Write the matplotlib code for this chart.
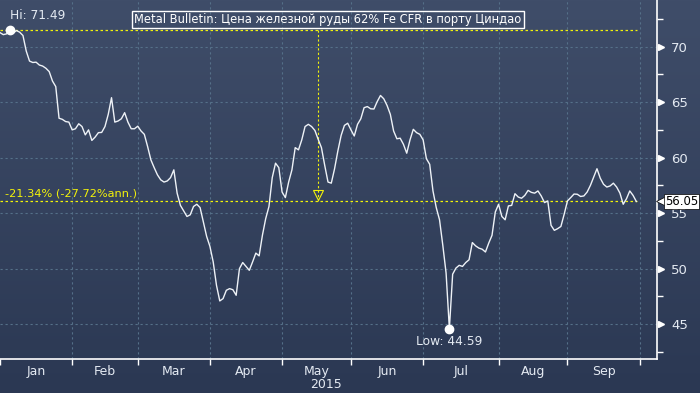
import numpy as np
import matplotlib
matplotlib.use("Agg")
import matplotlib.pyplot as plt
import matplotlib.transforms as mtransforms

# ------------------- DATA -------------------
# iron ore 62% Fe CFR Qingdao, one value per business day, Jan 1 - Sep 30 2015
prices = [
  71.26, 71.08, 71.15, 71.49, 71.20, 71.45, 71.30, 71.00, 69.60, 68.70,
  68.57, 68.60, 68.34, 68.25, 68.05, 67.75, 66.90, 66.40, 63.55, 63.45,
  63.25, 63.20, 62.50, 62.60, 63.05, 62.80, 62.05, 62.50, 61.55, 61.85,
  62.25, 62.27, 62.80, 63.90, 65.40, 63.20, 63.30, 63.50, 64.05, 63.20,
  62.60, 62.60, 62.83, 62.40, 62.10, 61.00, 59.80, 59.10, 58.45, 58.00,
  57.80, 57.90, 58.20, 58.90, 56.80, 55.70, 55.20, 54.70, 54.85, 55.60,
  55.80, 55.50, 54.20, 52.90, 52.00, 50.60, 48.50, 47.09, 47.30, 48.05,
  48.20, 48.10, 47.60, 50.00, 50.55, 50.20, 49.85, 50.60, 51.40, 51.15,
  53.00, 54.50, 55.60, 58.20, 59.50, 59.10, 56.90, 56.40, 57.80, 58.90,
  60.90, 60.70, 61.60, 62.80, 63.00, 62.80, 62.45, 61.65, 60.90, 59.30,
  57.80, 57.70, 59.00, 60.60, 62.00, 62.90, 63.10, 62.50, 61.95, 63.00,
  63.50, 64.50, 64.60, 64.40, 64.38, 65.05, 65.60, 65.30, 64.70, 63.90,
  62.40, 61.70, 61.75, 61.20, 60.40, 61.60, 62.55, 62.25, 62.10, 61.60,
  59.90, 59.40, 57.00, 55.50, 54.40, 52.10, 49.60, 44.59, 49.50, 50.05,
  50.30, 50.20, 50.55, 50.80, 52.35, 52.05, 51.85, 51.75, 51.50, 52.30,
  53.00, 55.10, 55.80, 54.70, 54.40, 55.65, 55.70, 56.75, 56.45, 56.34,
  56.60, 57.05, 56.87, 56.80, 57.00, 56.55, 55.95, 56.10, 53.90, 53.45,
  53.60, 53.80, 54.90, 56.10, 56.40, 56.72, 56.70, 56.50, 56.55, 56.90,
  57.50, 58.25, 59.00, 58.15, 57.60, 57.35, 57.45, 57.70, 57.35, 56.80,
  55.80, 56.30, 57.00, 56.60, 56.05,
]
months = ["Jan", "Feb", "Mar", "Apr", "May", "Jun", "Jul", "Aug", "Sep"]
# business days at the start of each month (and end of Sep)
month_starts = [0, 22, 42, 64, 86, 107, 129, 152, 173, 195]
yticks = [45, 50, 55, 60, 65, 70]
title = "Metal Bulletin: Цена железной руды 62% Fe CFR в порту Циндао"
change_label = "-21.34% (-27.72%ann.)"
marker_day = 97  # day of the change marker

# ------------------- STYLE -------------------
TXT = "#e4eaf2"
GRID = "#557089"
YEL = "#f2f20a"

x = np.arange(len(prices))
y = np.array(prices)
hi_i = int(np.argmax(y))
lo_i = int(np.argmin(y))
last = y[-1]

fig = plt.figure(figsize=(7.0, 3.93), dpi=100)

# background gradient
bg = fig.add_axes([0, 0, 1, 1], zorder=0)
grad = np.linspace(0, 1, 256).reshape(-1, 1)
cmap = matplotlib.colors.LinearSegmentedColormap.from_list("bg", ["#3f4d69", "#2b3853"])
bg.imshow(grad, aspect="auto", cmap=cmap, extent=[0, 1, 0, 1])
bg.axis("off")

ax = fig.add_axes([0.0, 1 - 359/393, 657/700, 359/393], zorder=1)
ax.patch.set_alpha(0)

ax.set_xlim(0, 200.3)
ax.set_ylim(41.86, 74.2)

# grid
for b in month_starts[1:]:
  ax.axvline(b, color=GRID, lw=0.8, ls=(0, (2, 2.5)), zorder=1)
for t in yticks:
  ax.axhline(t, color=GRID, lw=0.8, ls=(0, (2, 2.5)), zorder=1)

# reference lines
end = len(prices) - 0.8
ax.plot([0, end], [y[hi_i], y[hi_i]], color=YEL, lw=0.9, ls=(0, (2, 2)), zorder=2)
ax.plot([0, end], [last, last], color=YEL, lw=0.9, ls=(0, (2, 2)), zorder=2)
ax.plot([marker_day, marker_day], [y[hi_i], last], color=YEL, lw=0.8, ls=(0, (2, 2)), zorder=2)
ax.plot(marker_day, last + 0.55, marker="v", ms=7, mfc="none", mec=YEL, mew=0.8, zorder=3)

# price line
ax.plot(x, y, color="#eef2f7", lw=1.0, zorder=4)

# hi / low
ax.plot(hi_i, y[hi_i], "o", color="white", ms=6, zorder=5)
ax.plot(lo_i, y[lo_i], "o", color="white", ms=6, zorder=5)
ax.text(hi_i - 0.1, y[hi_i] + 0.7, f"Hi: {y[hi_i]:.2f}", color=TXT, fontsize=8.8, va="bottom", ha="left")
ax.text(lo_i, y[lo_i] - 0.6, f"Low: {y[lo_i]:.2f}", color=TXT, fontsize=8.8, va="top", ha="center")

ax.text(1.5, last + 0.3, change_label, color=YEL, fontsize=8.2, va="bottom", ha="left")

# title box
ax.text(100, 72.45, title, color="white", fontsize=8.3, ha="center", va="center",
        bbox=dict(boxstyle="square,pad=0.2", fc="none", ec="white", lw=1.0))

# spines
for s in ["top", "left"]:
  ax.spines[s].set_visible(False)
ax.spines["right"].set_color("white")
ax.spines["bottom"].set_color("white")
ax.spines["right"].set_linewidth(1.2)
ax.spines["bottom"].set_linewidth(1.2)

# x ticks: boundaries as ticks, month names in between
ax.set_xticks(month_starts)
ax.set_xticklabels([])
ax.tick_params(axis="x", which="major", length=4, color="white", width=1)
mids = [(month_starts[k] + month_starts[k + 1]) / 2 for k in range(len(months))]
ax.set_xticks(mids, minor=True)
ax.set_xticklabels(months, minor=True, color=TXT, fontsize=9)
ax.tick_params(axis="x", which="minor", length=0, pad=4)
ax.text(mids[4] + 3, -0.052, "2015", transform=mtransforms.blended_transform_factory(ax.transData, ax.transAxes),
        color=TXT, fontsize=9, ha="center", va="top")

# y ticks on the right
ax.yaxis.tick_right()
ax.set_yticks(yticks)
ax.set_yticklabels([str(t) for t in yticks], color=TXT, fontsize=9.5)
ax.tick_params(axis="y", which="major", length=0, pad=10)
ax.set_yticks([t + 2.5 for t in [40] + yticks], minor=True)
ax.tick_params(axis="y", which="minor", length=4, color="white", width=1)
trans = mtransforms.blended_transform_factory(ax.transAxes, ax.transData)
ax.plot([1.006] * len(yticks), yticks, ">", color="white", ms=5, transform=trans, clip_on=False, zorder=6)

# last value tag
ax.plot(1.007, last, "<", color="white", mec="black", mew=0.5, ms=8, transform=trans, clip_on=False, zorder=6)
ax.text(1.012, last, f"{last:.2f}", transform=trans, color="black", fontsize=8.4, va="center", ha="left",
        bbox=dict(boxstyle="square,pad=0.1", fc="white", ec="black", lw=0.5), zorder=7)

fig.savefig("out.png", dpi=100)
